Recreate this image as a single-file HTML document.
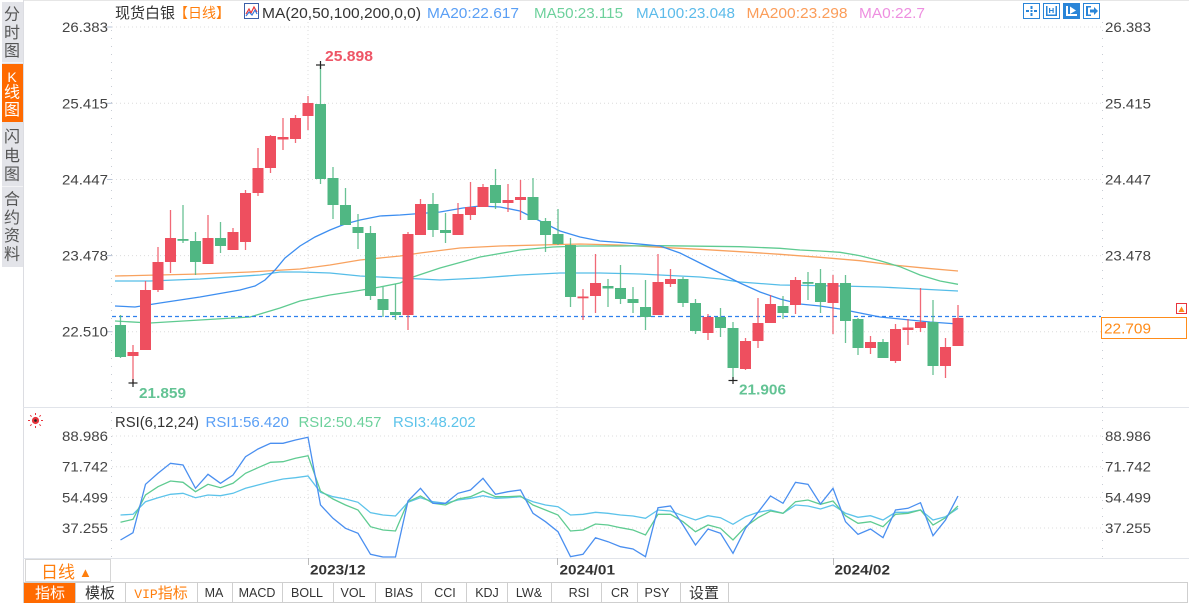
<!DOCTYPE html>
<html><head><meta charset="utf-8"><style>
html,body{margin:0;padding:0;background:#fff;}
svg{display:block;}
text{font-family:"Liberation Sans","Noto Sans CJK SC",sans-serif;}
.cj{font-family:"Liberation Sans","Noto Sans CJK SC",sans-serif;}
.mono{font-family:"Liberation Mono","Noto Sans CJK SC",monospace;}
</style></head><body>
<svg width="1189" height="603" viewBox="0 0 1189 603" xmlns="http://www.w3.org/2000/svg">
<rect width="1189" height="603" fill="#fff"/>
<!-- frame lines -->
<line x1="23" y1="0.5" x2="1189" y2="0.5" stroke="#e6e6e6"/>
<line x1="23.5" y1="0" x2="23.5" y2="603" stroke="#dcdde2"/>
<line x1="23" y1="407.5" x2="1189" y2="407.5" stroke="#e1e4ea"/>
<line x1="23" y1="558.5" x2="1189" y2="558.5" stroke="#e1e4ea"/>

<!-- sidebar -->
<rect x="2" y="2" width="21" height="265" fill="#e3e4e9"/>
<line x1="2" y1="62.5" x2="23" y2="62.5" stroke="#f3f3f5"/>
<line x1="2" y1="186.5" x2="23" y2="186.5" stroke="#f3f3f5"/>
<rect x="2" y="64" width="21" height="58" fill="#ff6a00"/>
<g class="cj" font-size="16" fill="#555" text-anchor="middle" dominant-baseline="central">
<text x="12" y="15">分</text><text x="12" y="33.5">时</text><text x="12" y="51.5">图</text>
<text x="12" y="77" fill="#fff" font-family="Liberation Serif" font-size="14">K</text>
<text x="12" y="93" fill="#fff">线</text><text x="12" y="110.5" fill="#fff">图</text>
<text x="12" y="137.5">闪</text><text x="12" y="156.5">电</text><text x="12" y="175">图</text>
<text x="12" y="200">合</text><text x="12" y="218.5">约</text><text x="12" y="236.5">资</text><text x="12" y="255">料</text>
</g>

<!-- header -->
<g font-size="15">
<text x="115" y="18" fill="#333" class="cj">现货白银</text>
<text x="174" y="18" fill="#ff7f0e" class="cj" font-size="14" textLength="56" lengthAdjust="spacingAndGlyphs">【日线】</text>
<text x="262" y="18" fill="#333" textLength="159" lengthAdjust="spacingAndGlyphs">MA(20,50,100,200,0,0)</text>
<text x="427" y="18" fill="#5a9ff5" textLength="92" lengthAdjust="spacingAndGlyphs">MA20:22.617</text>
<text x="534" y="18" fill="#6dd19c" textLength="89" lengthAdjust="spacingAndGlyphs">MA50:23.115</text>
<text x="636" y="18" fill="#5cbbea" textLength="99" lengthAdjust="spacingAndGlyphs">MA100:23.048</text>
<text x="746.5" y="18" fill="#fb9d5a" textLength="101" lengthAdjust="spacingAndGlyphs">MA200:23.298</text>
<text x="859" y="18" fill="#ee8fe0" textLength="66" lengthAdjust="spacingAndGlyphs">MA0:22.7</text>
</g>
<!-- MA icon -->
<rect x="244.5" y="3.5" width="14" height="15" fill="#fff" stroke="#3b5fa8"/>
<polyline points="246,14 249,9 251,13 254,7 257,12" fill="none" stroke="#e33" stroke-width="1.2"/>
<polyline points="246,16 249,12 252,15 255,10 257,14" fill="none" stroke="#3a7ad8" stroke-width="1.2"/>

<!-- top-right icons -->
<g stroke="#2a85d8" fill="#fff">
<rect x="1023.5" y="3.5" width="16" height="15"/>
<rect x="1043.5" y="3.5" width="16" height="15"/>
<rect x="1063.5" y="3.5" width="16" height="15" fill="#2a85d8"/>
<rect x="1083.5" y="3.5" width="16" height="15"/>
</g>
<g fill="#2a85d8">
<rect x="1030.5" y="6" width="2" height="3"/><rect x="1030.5" y="13" width="2" height="3"/>
<rect x="1026" y="10" width="3" height="2"/><rect x="1034" y="10" width="3" height="2"/>
<rect x="1030.5" y="10" width="2" height="2"/>
<rect x="1046" y="6" width="1.5" height="10"/><rect x="1055.5" y="6" width="1.5" height="10"/>
<rect x="1046" y="14.5" width="11" height="1.5"/><rect x="1049" y="8" width="1.2" height="5"/><rect x="1052.5" y="8" width="1.2" height="5"/><rect x="1049" y="10" width="4.6" height="1"/>
<rect x="1086" y="6" width="2" height="10"/><rect x="1088" y="6" width="3" height="1.5"/><rect x="1088" y="14.5" width="3" height="1.5"/>
<polygon points="1090,9.5 1094,9.5 1094,7 1098,11 1094,15 1094,12.5 1090,12.5"/>
</g>
<g fill="#fff">
<rect x="1066" y="6" width="2" height="10"/><rect x="1066" y="14" width="11" height="2"/>
<polygon points="1070,6.5 1076,10.5 1070,14"/>
</g>

<!-- grid main -->
<g stroke="#dcdcdc" stroke-dasharray="1,3">
<line x1="112" y1="27" x2="1102" y2="27"/>
<line x1="112" y1="103.3" x2="1102" y2="103.3"/>
<line x1="112" y1="179.5" x2="1102" y2="179.5"/>
<line x1="112" y1="255.6" x2="1102" y2="255.6"/>
<line x1="112" y1="331.7" x2="1102" y2="331.7"/>
<line x1="112" y1="436" x2="1102" y2="436"/>
<line x1="112" y1="466.7" x2="1102" y2="466.7"/>
<line x1="112" y1="497.4" x2="1102" y2="497.4"/>
<line x1="112" y1="528" x2="1102" y2="528"/>
<line x1="308" y1="22" x2="308" y2="407"/>
<line x1="557" y1="22" x2="557" y2="407"/>
<line x1="833" y1="22" x2="833" y2="407"/>
<line x1="308" y1="410" x2="308" y2="558"/>
<line x1="557" y1="410" x2="557" y2="558"/>
<line x1="833" y1="410" x2="833" y2="558"/>
</g>
<g stroke="#c8ccd4" stroke-dasharray="1,7">
<line x1="111.5" y1="22" x2="111.5" y2="407"/>
<line x1="1102.5" y1="22" x2="1102.5" y2="407"/>
<line x1="111.5" y1="412" x2="111.5" y2="558"/>
<line x1="1102.5" y1="412" x2="1102.5" y2="558"/>
</g>
<g stroke="#b8c4d8">
<line x1="107" y1="27" x2="112" y2="27"/><line x1="107" y1="103.3" x2="112" y2="103.3"/><line x1="107" y1="179.5" x2="112" y2="179.5"/><line x1="107" y1="255.6" x2="112" y2="255.6"/><line x1="107" y1="331.7" x2="112" y2="331.7"/>
</g>

<!-- axis labels -->
<g font-size="14" fill="#444">
<text x="62" y="32" textLength="46" lengthAdjust="spacingAndGlyphs">26.383</text>
<text x="62" y="108.3" textLength="46" lengthAdjust="spacingAndGlyphs">25.415</text>
<text x="62" y="184.5" textLength="46" lengthAdjust="spacingAndGlyphs">24.447</text>
<text x="62" y="260.6" textLength="46" lengthAdjust="spacingAndGlyphs">23.478</text>
<text x="62" y="336.7" textLength="46" lengthAdjust="spacingAndGlyphs">22.510</text>
<text x="1105" y="32" textLength="46" lengthAdjust="spacingAndGlyphs">26.383</text>
<text x="1105" y="108.3" textLength="46" lengthAdjust="spacingAndGlyphs">25.415</text>
<text x="1105" y="184.5" textLength="46" lengthAdjust="spacingAndGlyphs">24.447</text>
<text x="1105" y="260.6" textLength="46" lengthAdjust="spacingAndGlyphs">23.478</text>
<text x="62" y="441" textLength="46" lengthAdjust="spacingAndGlyphs">88.986</text>
<text x="62" y="471.7" textLength="46" lengthAdjust="spacingAndGlyphs">71.742</text>
<text x="62" y="502.4" textLength="46" lengthAdjust="spacingAndGlyphs">54.499</text>
<text x="62" y="533" textLength="46" lengthAdjust="spacingAndGlyphs">37.255</text>
<text x="1105" y="441" textLength="46" lengthAdjust="spacingAndGlyphs">88.986</text>
<text x="1105" y="471.7" textLength="46" lengthAdjust="spacingAndGlyphs">71.742</text>
<text x="1105" y="502.4" textLength="46" lengthAdjust="spacingAndGlyphs">54.499</text>
<text x="1105" y="533" textLength="46" lengthAdjust="spacingAndGlyphs">37.255</text>
</g>

<!-- MA lines -->
<g fill="none" stroke-width="1.3">
<polyline stroke="#f8a25f" points="115,276 200,274 250,272 300,269 330,265 360,260 400,256 420,253 460,248 500,246 540,245 580,244 620,245 660,247.3 700,249.3 740,251.7 780,254.3 820,257.3 860,260.7 893,265 927,268.3 958,271"/>
<polyline stroke="#55bde8" points="115,281 150,281 200,279 260,275 280,272 300,272 330,273 360,276 400,278 440,280 480,278 520,275 560,273 600,273 640,274 680,276 700,277 720,279 740,282 780,285 840,286 880,287 900,288 958,291"/>
<polyline stroke="#5fcb91" points="115,321 150,323 200,320 250,317 280,308 300,301 330,295 350,292 380,287 400,283 413,277 440,268 480,257 520,250 553,247 580,246 620,246 660,245.7 740,246.7 780,248.3 800,250 820,251 840,252.3 860,255.7 880,260.7 900,266.7 920,275 940,281 958,284.3"/>
<polyline stroke="#3d8ef0" points="115,306 135,307 160,303 200,297 240,290 255,286 265,280 275,270 285,258 300,246 315,237 330,230 345,224 360,220 380,216 400,215 440,212 463,208 480,206 500,207 520,211 540,221 560,231 580,237 600,241 627,243 650,245 660,246 680,253 700,263 720,273 740,283 760,292 780,299 800,304 820,306 840,309 860,313 880,317 900,319 930,322 958,324"/>
</g>

<!-- current price dashed -->
<line x1="112" y1="316.5" x2="1101" y2="316.5" stroke="#2f80ed" stroke-width="1.2" stroke-dasharray="4,3"/>

<!-- candles -->
<g id="red" fill="#ee4f5f" stroke="#ee4f5f">
<g stroke-width="1.3" stroke-opacity="0.85">
<line x1="133" y1="345" x2="133" y2="383"/>
<line x1="145.5" y1="281" x2="145.5" y2="350"/>
<line x1="158" y1="247" x2="158" y2="292"/>
<line x1="170.5" y1="210" x2="170.5" y2="273"/>
<line x1="208" y1="215" x2="208" y2="264"/>
<line x1="233" y1="228" x2="233" y2="250"/>
<line x1="245.5" y1="190" x2="245.5" y2="250"/>
<line x1="258" y1="148" x2="258" y2="196"/>
<line x1="270.5" y1="135" x2="270.5" y2="173"/>
<line x1="283" y1="118" x2="283" y2="150"/>
<line x1="295.5" y1="115" x2="295.5" y2="143"/>
<line x1="308" y1="96" x2="308" y2="130"/>
<line x1="408" y1="232" x2="408" y2="330"/>
<line x1="420.5" y1="199" x2="420.5" y2="235"/>
<line x1="458" y1="203" x2="458" y2="235"/>
<line x1="470.5" y1="182" x2="470.5" y2="220"/>
<line x1="483" y1="184" x2="483" y2="207"/>
<line x1="508" y1="184" x2="508" y2="212"/>
<line x1="520.5" y1="180" x2="520.5" y2="220"/>
<line x1="583" y1="289" x2="583" y2="320"/>
<line x1="595.5" y1="254" x2="595.5" y2="313"/>
<line x1="658" y1="254" x2="658" y2="315"/>
<line x1="670.5" y1="269" x2="670.5" y2="287"/>
<line x1="708" y1="314" x2="708" y2="340"/>
<line x1="745.5" y1="338" x2="745.5" y2="370"/>
<line x1="758" y1="298" x2="758" y2="348"/>
<line x1="770.5" y1="295" x2="770.5" y2="323"/>
<line x1="795.5" y1="277" x2="795.5" y2="314"/>
<line x1="833" y1="275" x2="833" y2="334"/>
<line x1="870.5" y1="336" x2="870.5" y2="354"/>
<line x1="895.5" y1="324" x2="895.5" y2="363"/>
<line x1="908" y1="319" x2="908" y2="345"/>
<line x1="920.5" y1="288" x2="920.5" y2="332"/>
<line x1="945.5" y1="338" x2="945.5" y2="378"/>
<line x1="958" y1="305" x2="958" y2="346"/>
</g>
<g stroke="none">
<rect x="127.5" y="352" width="11" height="4"/>
<rect x="140" y="290" width="11" height="60"/>
<rect x="152.5" y="262" width="11" height="28"/>
<rect x="165" y="238" width="11" height="24"/>
<rect x="202.5" y="238" width="11" height="26"/>
<rect x="227.5" y="232" width="11" height="18"/>
<rect x="240" y="193" width="11" height="49"/>
<rect x="252.5" y="168" width="11" height="25"/>
<rect x="265" y="136" width="11" height="32"/>
<rect x="277.5" y="137" width="11" height="2.5"/>
<rect x="290" y="118" width="11" height="21"/>
<rect x="302.5" y="103" width="11" height="13"/>
<rect x="402.5" y="234" width="11" height="81"/>
<rect x="415" y="204" width="11" height="31"/>
<rect x="452.5" y="214" width="11" height="21"/>
<rect x="465" y="207" width="11" height="8"/>
<rect x="477.5" y="187" width="11" height="20"/>
<rect x="502.5" y="200" width="11" height="3"/>
<rect x="515" y="197" width="11" height="3"/>
<rect x="577.5" y="296.5" width="11" height="1.8"/>
<rect x="590" y="283" width="11" height="13"/>
<rect x="652.5" y="282" width="11" height="33"/>
<rect x="665" y="279" width="11" height="5"/>
<rect x="702.5" y="317" width="11" height="16"/>
<rect x="740" y="341" width="11" height="28"/>
<rect x="752.5" y="323" width="11" height="18"/>
<rect x="765" y="304" width="11" height="19"/>
<rect x="790" y="280" width="11" height="25"/>
<rect x="827.5" y="283" width="11" height="20"/>
<rect x="865" y="342" width="11" height="6"/>
<rect x="890" y="329" width="11" height="32"/>
<rect x="902.5" y="327.5" width="11" height="2.5"/>
<rect x="915" y="322" width="11" height="6"/>
<rect x="940" y="347" width="11" height="19"/>
<rect x="952.5" y="318" width="11" height="28"/>
</g>
</g>
<g fill="#50b783" stroke="#50b783">
<g stroke-width="1.3" stroke-opacity="0.85">
<line x1="120.5" y1="315" x2="120.5" y2="358"/>
<line x1="183" y1="205" x2="183" y2="243"/>
<line x1="195.5" y1="232" x2="195.5" y2="275"/>
<line x1="220.5" y1="222" x2="220.5" y2="253"/>
<line x1="320.5" y1="65" x2="320.5" y2="184"/>
<line x1="333" y1="167" x2="333" y2="219"/>
<line x1="345.5" y1="188" x2="345.5" y2="225"/>
<line x1="358" y1="214" x2="358" y2="249"/>
<line x1="370.5" y1="226" x2="370.5" y2="300"/>
<line x1="383" y1="287" x2="383" y2="317"/>
<line x1="395.5" y1="284" x2="395.5" y2="320"/>
<line x1="433" y1="193" x2="433" y2="237"/>
<line x1="445.5" y1="213" x2="445.5" y2="243"/>
<line x1="495.5" y1="169" x2="495.5" y2="209"/>
<line x1="533" y1="178" x2="533" y2="220"/>
<line x1="545.5" y1="218" x2="545.5" y2="252"/>
<line x1="558" y1="209" x2="558" y2="245"/>
<line x1="570.5" y1="238" x2="570.5" y2="307"/>
<line x1="608" y1="279" x2="608" y2="307"/>
<line x1="620.5" y1="265" x2="620.5" y2="304"/>
<line x1="633" y1="287" x2="633" y2="313"/>
<line x1="645.5" y1="280" x2="645.5" y2="330"/>
<line x1="683" y1="277" x2="683" y2="307"/>
<line x1="695.5" y1="299" x2="695.5" y2="334"/>
<line x1="720.5" y1="308" x2="720.5" y2="337"/>
<line x1="733" y1="322" x2="733" y2="380"/>
<line x1="783" y1="296" x2="783" y2="319"/>
<line x1="808" y1="272" x2="808" y2="300"/>
<line x1="820.5" y1="269" x2="820.5" y2="313"/>
<line x1="845.5" y1="275" x2="845.5" y2="343"/>
<line x1="858" y1="318" x2="858" y2="355"/>
<line x1="883" y1="339" x2="883" y2="358"/>
<line x1="933" y1="300" x2="933" y2="375"/>
</g>
<g stroke="none">
<rect x="115" y="325" width="11" height="32"/>
<rect x="177.5" y="239" width="11" height="1.8"/>
<rect x="190" y="241" width="11" height="21"/>
<rect x="215" y="238" width="11" height="8"/>
<rect x="315" y="104" width="11" height="75"/>
<rect x="327.5" y="178" width="11" height="27"/>
<rect x="340" y="205" width="11" height="20"/>
<rect x="352.5" y="227" width="11" height="6"/>
<rect x="365" y="233" width="11" height="63"/>
<rect x="377.5" y="299" width="11" height="11"/>
<rect x="390" y="312" width="11" height="3"/>
<rect x="427.5" y="204" width="11" height="26"/>
<rect x="440" y="230" width="11" height="3"/>
<rect x="490" y="185" width="11" height="18"/>
<rect x="527.5" y="197" width="11" height="23"/>
<rect x="540" y="221" width="11" height="14"/>
<rect x="552.5" y="234" width="11" height="10"/>
<rect x="565" y="245" width="11" height="52"/>
<rect x="602.5" y="286" width="11" height="2.5"/>
<rect x="615" y="288" width="11" height="11"/>
<rect x="627.5" y="299" width="11" height="4"/>
<rect x="640" y="307" width="11" height="10"/>
<rect x="677.5" y="279" width="11" height="24"/>
<rect x="690" y="303" width="11" height="28"/>
<rect x="715" y="317" width="11" height="11"/>
<rect x="727.5" y="328" width="11" height="40"/>
<rect x="777.5" y="306" width="11" height="7"/>
<rect x="802.5" y="282" width="11" height="1.8"/>
<rect x="815" y="283" width="11" height="19"/>
<rect x="840" y="283" width="11" height="38"/>
<rect x="852.5" y="319" width="11" height="29"/>
<rect x="877.5" y="342" width="11" height="16"/>
<rect x="927.5" y="322" width="11" height="44"/>
</g>
</g>

<!-- extreme markers -->
<g stroke="#222" stroke-width="1.2">
<line x1="316" y1="65" x2="325" y2="65"/><line x1="320.5" y1="61" x2="320.5" y2="69"/>
<line x1="128.5" y1="383" x2="137.5" y2="383"/><line x1="133" y1="379" x2="133" y2="387"/>
<line x1="728.5" y1="380.5" x2="737.5" y2="380.5"/><line x1="733" y1="377" x2="733" y2="384"/>
</g>
<g font-size="14.5" font-weight="bold">
<text x="325" y="61" fill="#ee5566" textLength="48" lengthAdjust="spacingAndGlyphs">25.898</text>
<text x="139" y="398" fill="#63c394" textLength="47" lengthAdjust="spacingAndGlyphs">21.859</text>
<text x="739" y="394.5" fill="#63c394" textLength="47" lengthAdjust="spacingAndGlyphs">21.906</text>
</g>

<!-- price box -->
<rect x="1101.5" y="317.5" width="85" height="21" fill="#fff" stroke="#ff8c1a"/>
<text x="1104" y="333.5" font-size="15" fill="#ff8c1a" textLength="47" lengthAdjust="spacingAndGlyphs">22.709</text>
<rect x="1176.5" y="303.5" width="10" height="10" fill="#fff" stroke="#e8343c"/>
<polygon points="1178.5,312 1181.5,306.5 1184.5,312" fill="#ff8c1a"/>

<!-- RSI header -->
<g stroke="#e8343c" stroke-width="1">
<line x1="35.5" y1="413" x2="35.5" y2="415"/><line x1="35.5" y1="426" x2="35.5" y2="428"/>
<line x1="28" y1="420.5" x2="30" y2="420.5"/><line x1="41" y1="420.5" x2="43" y2="420.5"/>
<line x1="30.2" y1="415.2" x2="31.6" y2="416.6"/><line x1="39.4" y1="424.4" x2="40.8" y2="425.8"/>
<line x1="40.8" y1="415.2" x2="39.4" y2="416.6"/><line x1="31.6" y1="424.4" x2="30.2" y2="425.8"/>
</g>
<circle cx="35.5" cy="420.5" r="3.6" fill="#e8343c"/>
<circle cx="35.5" cy="420.5" r="1.3" fill="#222"/>
<g font-size="15">
<text x="115" y="427" fill="#333" textLength="84" lengthAdjust="spacingAndGlyphs">RSI(6,12,24)</text>
<text x="205.5" y="427" fill="#5a9ff5" textLength="83.5" lengthAdjust="spacingAndGlyphs">RSI1:56.420</text>
<text x="298.5" y="427" fill="#6dd19c" textLength="83" lengthAdjust="spacingAndGlyphs">RSI2:50.457</text>
<text x="393" y="427" fill="#5cc3ea" textLength="82.7" lengthAdjust="spacingAndGlyphs">RSI3:48.202</text>
</g>

<!-- RSI lines -->
<g fill="none" stroke-width="1.3">
<polyline stroke="#5cc3ea" points="120.5,515 133,514.3 145.5,501.7 158,497.7 170.5,494.3 183,493.3 195.5,497.7 208,495 220.5,495.7 233,493.3 245.5,488.3 258,485 270.5,481.7 283,479 295.5,477.7 308,476 320.5,492.3 333,496.7 345.5,499 358,502.3 370.5,512.7 383,515 395.5,516 408,502.3 420.5,497.7 433,501.7 445.5,503.3 458,500 470.5,498.3 483,495.7 495.5,498.3 508,497.7 520.5,496.7 533,501.7 545.5,505 558,506.7 570.5,515 583,514.3 595.5,512.3 608,513.3 620.5,515 633,516 645.5,518.3 658,510 670.5,511 683,515.7 695.5,520 708,515.7 720.5,517.7 733,524.3 745.5,516.7 758,512.3 770.5,510 783,513.3 795.5,505 808,506 820.5,509 833,505 845.5,513.3 858,517.3 870.5,515.7 883,520 895.5,512.3 908,512.3 920.5,510 933,520 945.5,516.7 958,508.3"/>
<polyline stroke="#5fcb91" points="120.5,522.3 133,519.3 145.5,495 158,486.7 170.5,481 183,482.3 195.5,491.7 208,484.3 220.5,487.7 233,483.3 245.5,473.3 258,467.7 270.5,462.3 283,461.7 295.5,458.3 308,455.7 320.5,491 333,499 345.5,505 358,510 370.5,526.7 383,530 395.5,531 408,501.7 420.5,496 433,503.3 445.5,505 458,499 470.5,496.7 483,491 495.5,496.7 508,496.7 520.5,496 533,505 545.5,510 558,515 570.5,531 583,530 595.5,524 608,525 620.5,527.7 633,530 645.5,535 658,514.3 670.5,514.3 683,521.7 695.5,531.7 708,525 720.5,528.3 733,540 745.5,526.7 758,517.7 770.5,511 783,513.3 795.5,501.7 808,500 820.5,504.3 833,501 845.5,515.7 858,523.3 870.5,521.7 883,526.7 895.5,514.3 908,513.3 920.5,510 933,525 945.5,517.7 958,506"/>
<polyline stroke="#4a8ff0" points="120.5,540 133,532.7 145.5,484.3 158,473.3 170.5,463.3 183,465 195.5,488.3 208,474.3 220.5,483.3 233,475 245.5,456.7 258,449 270.5,443.3 283,443.3 295.5,440 308,437.3 320.5,505 333,518.3 345.5,528.3 358,533.3 370.5,554.3 383,557 395.5,557 408,501 420.5,488.3 433,503.3 445.5,503.3 458,493.3 470.5,490 483,478.3 495.5,494.3 508,491.7 520.5,490 533,513.3 545.5,521.7 558,531.7 570.5,556.7 583,554.3 595.5,537.7 608,541.7 620.5,546.7 633,549 645.5,556.7 658,507.7 670.5,506 683,525 695.5,545 708,529 720.5,533.3 733,553.3 745.5,528.3 758,512.3 770.5,496 783,503.3 795.5,482.3 808,484.3 820.5,504 833,488.3 845.5,521.7 858,534.3 870.5,529 883,537.7 895.5,510 908,508.3 920.5,502.7 933,535.7 945.5,520 958,496"/>
</g>

<!-- date axis -->
<rect x="25.5" y="559.5" width="85" height="22" fill="#fff" stroke="#d6d6d6"/>
<text x="41" y="578" class="cj" font-size="17" fill="#ff7f0e">日线</text>
<text x="79" y="577" font-size="13" fill="#ff7f0e">▲</text>
<g stroke="#bbb"><line x1="308.5" y1="558" x2="308.5" y2="565"/><line x1="557.5" y1="558" x2="557.5" y2="565"/><line x1="833.5" y1="558" x2="833.5" y2="565"/></g>
<g font-size="14" font-weight="bold" fill="#333">
<text x="310" y="574.5" textLength="55.5" lengthAdjust="spacingAndGlyphs">2023/12</text>
<text x="559.5" y="574.5" textLength="55.5" lengthAdjust="spacingAndGlyphs">2024/01</text>
<text x="834.5" y="574.5" textLength="55.5" lengthAdjust="spacingAndGlyphs">2024/02</text>
</g>

<!-- bottom toolbar -->
<rect x="23.5" y="582.5" width="1164" height="20" fill="#fff" stroke="#cfcfcf"/>
<rect x="24" y="583" width="51" height="20" fill="#ff6a00"/>
<g stroke="#cfcfcf">
<line x1="75.5" y1="582" x2="75.5" y2="603"/><line x1="125.5" y1="582" x2="125.5" y2="603"/><line x1="197.5" y1="582" x2="197.5" y2="603"/>
<line x1="232.5" y1="582" x2="232.5" y2="603"/><line x1="282.5" y1="582" x2="282.5" y2="603"/><line x1="333.5" y1="582" x2="333.5" y2="603"/>
<line x1="375.5" y1="582" x2="375.5" y2="603"/><line x1="421.5" y1="582" x2="421.5" y2="603"/><line x1="466.5" y1="582" x2="466.5" y2="603"/>
<line x1="507.5" y1="582" x2="507.5" y2="603"/><line x1="551.5" y1="582" x2="551.5" y2="603"/><line x1="601.5" y1="582" x2="601.5" y2="603"/>
<line x1="637.5" y1="582" x2="637.5" y2="603"/><line x1="680.5" y1="582" x2="680.5" y2="603"/><line x1="728.5" y1="582" x2="728.5" y2="603"/>
</g>
<g class="cj" font-size="15" text-anchor="middle">
<text x="50" y="598" fill="#fff">指标</text>
<text x="100" y="598" fill="#333">模板</text>
<text x="161" y="598" fill="#ff7f0e"><tspan class="mono" font-size="13">VIP</tspan>指标</text>
<text x="704" y="598" fill="#333">设置</text>
</g>
<g class="mono" font-size="12.5" fill="#333" text-anchor="middle">
<text x="214" y="597">MA</text>
<text x="257" y="597">MACD</text>
<text x="307" y="597">BOLL</text>
<text x="353" y="597">VOL</text>
<text x="399" y="597">BIAS</text>
<text x="445" y="597">CCI</text>
<text x="487" y="597">KDJ</text>
<text x="529" y="597">LW&amp;</text>
<text x="579" y="597">RSI</text>
<text x="620" y="597">CR</text>
<text x="657" y="597">PSY</text>
</g>
</svg>
</body></html>
